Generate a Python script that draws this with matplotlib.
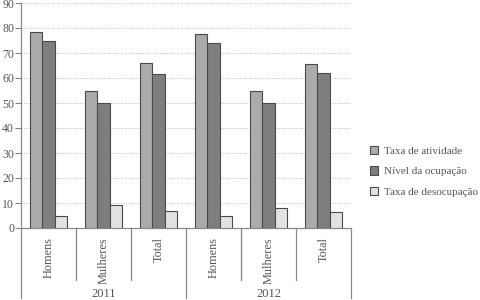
import matplotlib
matplotlib.use("Agg")
import matplotlib.pyplot as plt
import numpy as np
from matplotlib.patches import Patch

plt.rcParams['font.family'] = ['Liberation Serif', 'DejaVu Serif']

categories = ["Homens", "Mulheres", "Total", "Homens", "Mulheres", "Total"]
years = ["2011", "2012"]
series_names = ["Taxa de atividade", "Nível da ocupação", "Taxa de desocupação"]
taxa_atividade = [78.3, 54.9, 66.2, 77.6, 54.9, 65.6]
nivel_ocupacao = [74.7, 49.9, 61.7, 74.0, 50.0, 62.0]
taxa_desocupacao = [4.9, 9.2, 6.7, 4.9, 8.1, 6.4]
yticks = [0, 10, 20, 30, 40, 50, 60, 70, 80, 90]

colors = ["#ababab", "#7e7e7e", "#e2e2e2"]
edge = "#4a4a4a"
txtc = "#555555"

fig = plt.figure(figsize=(4.8, 3.0), dpi=100)
ax = fig.add_axes([21/480, 72/300, 330/480, 225/300])

x = np.arange(len(categories))
w = 0.22
for i, (vals, c) in enumerate(zip([taxa_atividade, nivel_ocupacao, taxa_desocupacao], colors)):
    ax.bar(x + (i - 1) * w, vals, width=w, color=c, edgecolor=edge, linewidth=0.8, zorder=3)

ax.set_xlim(-0.5, len(categories) - 0.5)
ax.set_ylim(0, 90)
ax.set_yticks(yticks)
ax.set_xticks([])
ax.tick_params(axis='y', length=4, width=0.8, color="#888888", labelcolor=txtc, labelsize=8.5, pad=1)
ax.yaxis.grid(True, linestyle=(0, (1, 1.5)), color="#bbbbbb", linewidth=0.7, zorder=0)
for s in ["top", "right"]:
    ax.spines[s].set_visible(False)
for s in ["left", "bottom"]:
    ax.spines[s].set_color("#888888")
    ax.spines[s].set_linewidth(0.9)

trans = ax.get_xaxis_transform()
for b in np.arange(-0.5, len(categories), 1.0):
    if b in (-0.5, 2.5, 5.5):
        y0 = -70/225
    else:
        y0 = -52/225
    ax.plot([b, b], [0, y0], transform=trans, clip_on=False, color="#888888", linewidth=0.9)

for xi, cat in zip(x, categories):
    ax.text(xi, -9/225, cat, transform=trans, rotation=90, ha='center', va='top',
            fontsize=8.8, color=txtc)
for k, yr in enumerate(years):
    ax.text(1 + 3 * k, -66/225, yr, transform=trans, ha='center', va='center',
            fontsize=9, color=txtc)

handles = [Patch(facecolor=c, edgecolor=edge, linewidth=0.8) for c in colors]
fig.legend(handles, series_names, loc='upper left', bbox_to_anchor=(360/480, 1 - 136/300),
           frameon=False, fontsize=8.0, handlelength=0.75, handleheight=0.75,
           handletextpad=0.55, labelspacing=0.95, labelcolor=txtc)

fig.savefig("out.png", dpi=100)
